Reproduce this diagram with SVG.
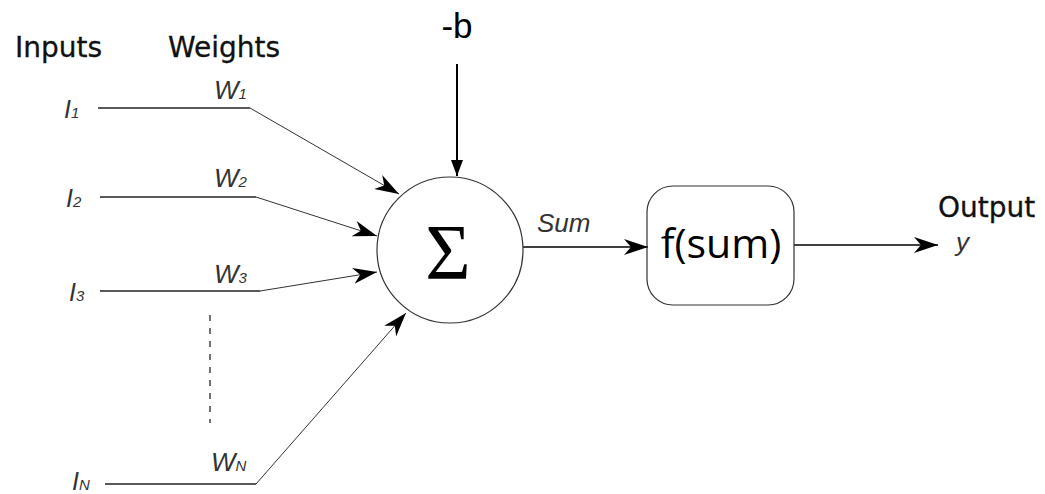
<svg xmlns="http://www.w3.org/2000/svg" width="1045" height="494" viewBox="0 0 1045 494">
<style>
.lbl{font-family:"DejaVu Sans","Liberation Sans",sans-serif;font-size:28px;fill:#111;stroke:#111;stroke-width:0.3}
.it{font-family:"Liberation Sans",Arial,sans-serif;font-style:italic;font-size:26px;fill:#333}
.ii{font-family:"Liberation Sans",Arial,sans-serif;font-style:italic;font-size:25px;fill:#333}
.sub{font-size:15px}
.ln{stroke:#222;stroke-width:1.5;fill:none}
.dl{stroke:#333;stroke-width:1;fill:none;marker-end:url(#ah)}
</style>
<defs>
<marker id="ah" viewBox="0 0 24 16" refX="24" refY="8" markerWidth="24" markerHeight="16" markerUnits="userSpaceOnUse" orient="auto">
<path d="M0,0 L24,8 L0,16 L7,8 Z" fill="#000"/>
</marker>
<marker id="ahs" viewBox="0 0 16 12" refX="16" refY="6" markerWidth="16" markerHeight="12" markerUnits="userSpaceOnUse" orient="auto">
<path d="M0,0 L16,6 L0,12 Z" fill="#000"/>
</marker>
</defs>
<g id="labels">
<text class="lbl" x="15" y="57">Inputs</text>
<text class="lbl" x="168" y="57">Weights</text>
<text class="lbl" x="938" y="217" font-size="25" stroke-width="0">Output</text>
</g>
<g id="inputs">
<g id="i1"><text class="ii" x="64" y="118">I<tspan class="sub">1</tspan></text></g>
<g id="i2"><text class="ii" x="66" y="207">I<tspan class="sub">2</tspan></text></g>
<g id="i3"><text class="ii" x="69" y="301">I<tspan class="sub">3</tspan></text></g>
<g id="iN"><text class="ii" x="72" y="490">I<tspan class="sub">N</tspan></text></g>
</g>
<g id="weights">
<text class="it" x="214" y="99">W<tspan class="sub">1</tspan></text>
<text class="it" x="214" y="187">W<tspan class="sub">2</tspan></text>
<text class="it" x="214" y="283">W<tspan class="sub">3</tspan></text>
<text class="it" x="211" y="471">W<tspan class="sub">N</tspan></text>
</g>
<g id="connectors">
<line class="ln" x1="98" y1="108" x2="250" y2="108"/>
<line class="ln" x1="100" y1="197" x2="256" y2="197"/>
<line class="ln" x1="100" y1="291" x2="260" y2="291"/>
<line class="ln" x1="105" y1="484" x2="256" y2="484"/>
<line class="dl" x1="250" y1="108" x2="399" y2="194"/>
<line class="dl" x1="256" y1="197" x2="377" y2="236"/>
<line class="dl" x1="260" y1="291" x2="377" y2="272"/>
<line class="dl" x1="256" y1="484" x2="406" y2="313"/>
<line x1="210" y1="315" x2="210" y2="423" stroke="#444" stroke-width="1.5" stroke-dasharray="6,7"/>
<line x1="457" y1="64" x2="457" y2="176" stroke="#000" stroke-width="2" marker-end="url(#ahs)"/>
<line x1="523" y1="247" x2="648" y2="247" stroke="#000" stroke-width="1.5" marker-end="url(#ah)"/>
<line x1="794" y1="245" x2="938" y2="245" stroke="#000" stroke-width="1.5" marker-end="url(#ah)"/>
</g>
<g id="bias"><text x="457" y="38" text-anchor="middle" font-family="'Liberation Sans',Arial,sans-serif" font-size="35" fill="#000">-b</text></g>
<g id="sum">
<circle cx="450" cy="250" r="73" fill="none" stroke="#333" stroke-width="1.2"/>
<text x="448" y="278" text-anchor="middle" font-family="'Liberation Serif','DejaVu Serif',serif" font-size="78" fill="#000">Σ</text>
<text class="it" x="537" y="232" font-size="29">Sum</text>
</g>
<g id="activation">
<rect x="647" y="186" width="147" height="119" rx="26" fill="none" stroke="#333" stroke-width="1.2"/>
<text x="721" y="258" text-anchor="middle" font-family="'Open Sans','Liberation Sans',sans-serif" font-size="41" fill="#000">f(sum)</text>
</g>
<g id="output"><text class="it" x="956" y="251">y</text></g>
</svg>
